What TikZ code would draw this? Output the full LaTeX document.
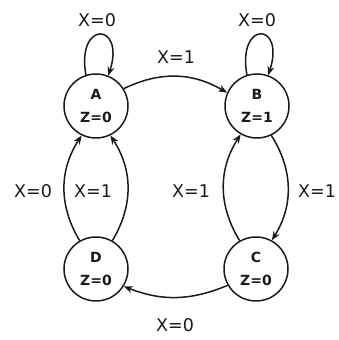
\documentclass[tikz,border=0pt]{standalone}
\usepackage{fontspec}
\setmainfont{DejaVu Sans}
\usetikzlibrary{arrows.meta,positioning}
\definecolor{inkcol}{HTML}{1a1a1a}

\begin{document}
\begin{tikzpicture}[
    x=1pt, y=1pt,
    >={Stealth[length=9pt,width=7pt]},
    line width=1.5pt,
    inkcol,
    state/.style={circle, draw, minimum size=64pt, inner sep=0pt,
      align=center, font=\fontsize{14}{23}\selectfont\bfseries},
    lbl/.style={font=\fontsize{17.5}{20}\selectfont},
  ]

  \useasboundingbox (0,0) rectangle (339,340);

  % States
  \node[state] (A) at (96,234) {A\\Z=0};
  \node[state] (B) at (257,234) {B\\Z=1};
  \node[state] (C) at (256,71) {C\\Z=0};
  \node[state] (D) at (96,71) {D\\Z=0};

  % Self loops
  \draw[->] (A.108) .. controls +(100:56) and +(72:56) .. (A.68);
  \draw[->] (B.108) .. controls +(100:56) and +(72:56) .. (B.70);
  \node[lbl] (lA) at (97,320) {X=0};
  \node[lbl] (lB) at (257,320) {X=0};

  % A to B
  \draw[->] (A.32) to[bend left=28] (B.156);
  \node[lbl] (lAB) at (176,283) {X=1};

  % B and C
  \draw[->] (B.296) to[bend left=32] (C.61);
  \draw[->] (C.120) to[bend left=32] (B.240);
  \node[lbl] (lBC) at (317,149) {X=1};
  \node[lbl] (lCB) at (191,149) {X=1};

  % D to A, both ways round
  \draw[->] (D.120) to[bend left=32] (A.244);
  \draw[->] (D.60) to[bend right=32] (A.296);
  \node[lbl] (lDA0) at (33,149) {X=0};
  \node[lbl] (lDA1) at (93,149) {X=1};

  % C to D
  \draw[->] (C.210) to[bend left=22] (D.328);
  \node[lbl] (lCD) at (175,15) {X=0};

\end{tikzpicture}
\end{document}
